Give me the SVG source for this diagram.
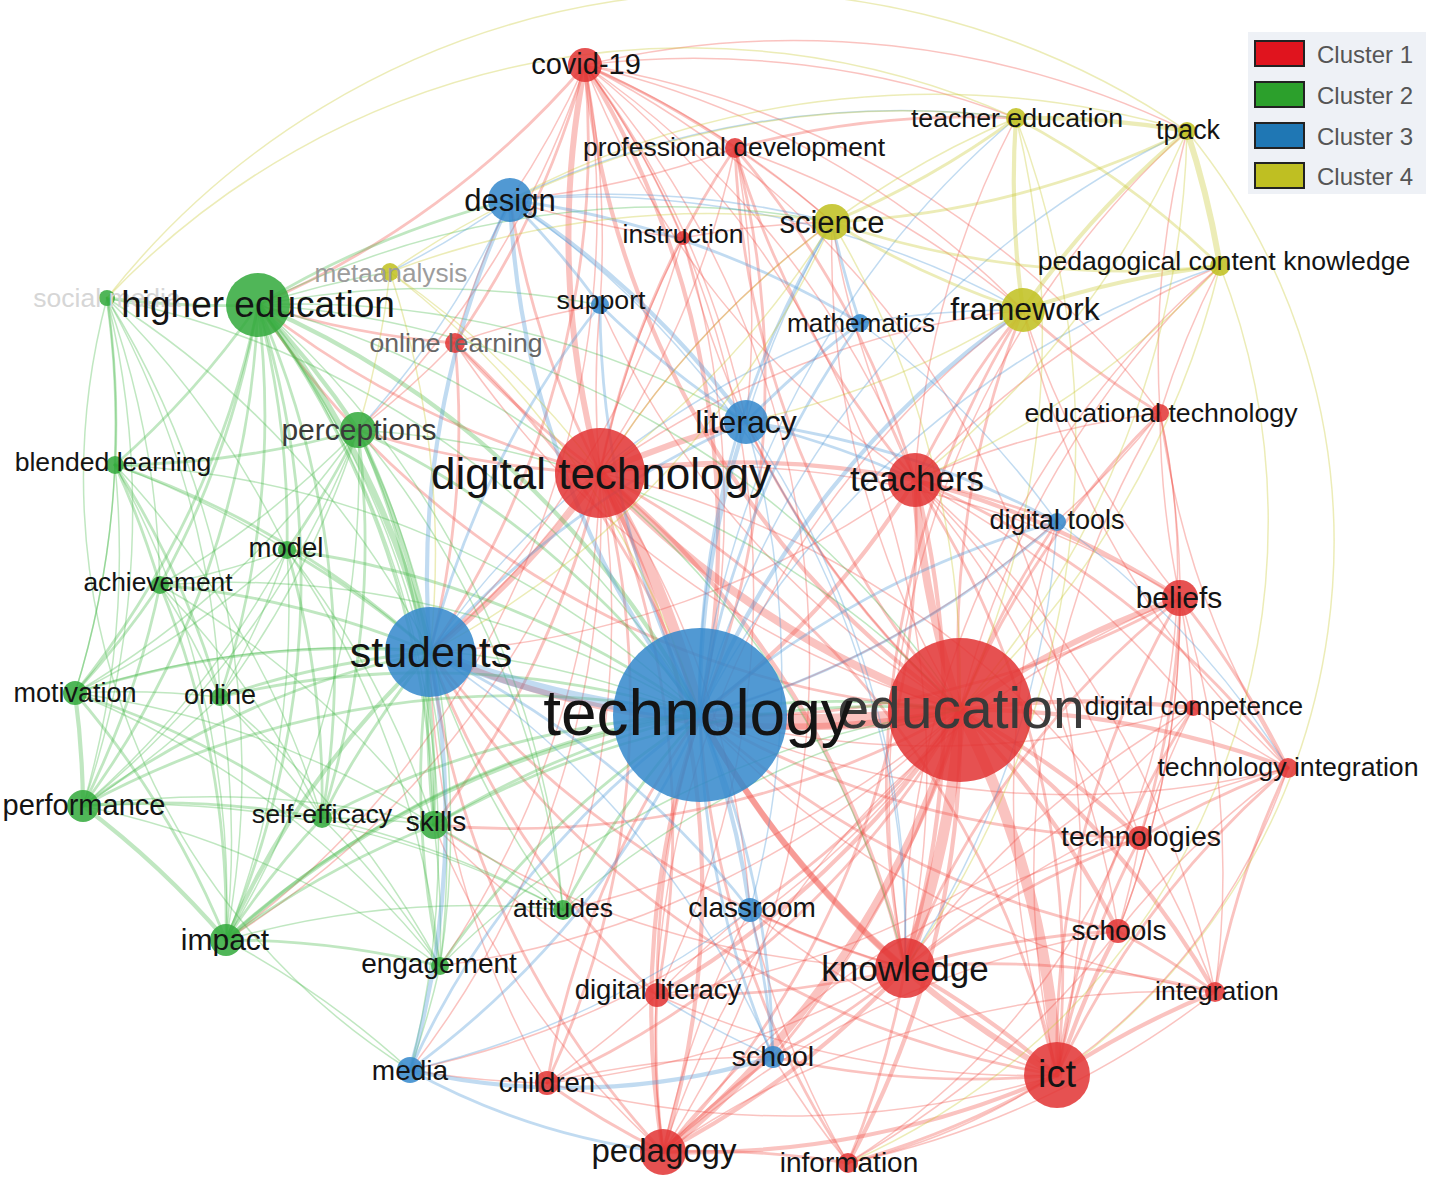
<svg xmlns="http://www.w3.org/2000/svg" width="1429" height="1197" viewBox="0 0 1429 1197">
<style>
#edges path{fill:none;stroke-opacity:.34;stroke-linecap:round}
.r{stroke:#ef4f47}.g{stroke:#45b84a}.b{stroke:#4a95d6}.y{stroke:#c6c62c}
.a{stroke-width:1.5}.b2{stroke-width:2.8}.c{stroke-width:4.2}.d{stroke-width:6}.e{stroke-width:8}.f{stroke-width:11}.h{stroke-width:16}
.nr{fill:#e23434;fill-opacity:.86}.ng{fill:#33aa3c;fill-opacity:.86}.nb{fill:#3488cc;fill-opacity:.86}.ny{fill:#c2c224;fill-opacity:.88}
text{font-family:"Liberation Sans",Arial,sans-serif;text-anchor:middle;fill:#141414}
.lg{text-anchor:start;fill:#555;font-size:24px}
</style>
<rect width="1429" height="1197" fill="#fff"/>
<g id="edges">
<path class="r h" d="M960 710A900 900 0 0 1 700 715"/>
<path class="r e" d="M960 710A900 900 0 0 1 600 473"/>
<path class="r f" d="M960 710A900 900 0 0 1 905 968"/>
<path class="r f" d="M960 710A900 900 0 0 1 1057 1075"/>
<path class="r e" d="M960 710A900 900 0 0 1 915 480"/>
<path class="r e" d="M960 710A900 900 0 0 1 663 1152"/>
<path class="r d" d="M960 710A900 900 0 0 1 1180 598"/>
<path class="r c" d="M960 710A900 900 0 0 1 1140 838"/>
<path class="r c" d="M960 710A900 900 0 0 1 1118 931"/>
<path class="r c" d="M960 710A900 900 0 0 1 1215 992"/>
<path class="r c" d="M960 710A900 900 0 0 1 1288 768"/>
<path class="r c" d="M960 710A900 900 0 0 1 1193 708"/>
<path class="r b2" d="M960 710A900 900 0 0 1 1160 413"/>
<path class="r c" d="M960 710A900 900 0 0 1 848 1163"/>
<path class="r c" d="M960 710A900 900 0 0 1 657 995"/>
<path class="r b2" d="M960 710A900 900 0 0 1 547 1083"/>
<path class="r c" d="M960 710A900 900 0 0 1 585 65"/>
<path class="r b2" d="M960 710A900 900 0 0 1 735 148"/>
<path class="r d" d="M960 710A900 900 0 0 1 430 652"/>
<path class="r b2" d="M960 710A900 900 0 0 1 750 910"/>
<path class="r b2" d="M960 710A900 900 0 0 1 773 1057"/>
<path class="r b2" d="M960 710A900 900 0 0 1 1057 522"/>
<path class="r b2" d="M960 710A900 900 0 0 1 1023 310"/>
<path class="r b2" d="M960 710A900 900 0 0 1 746 422"/>
<path class="r b2" d="M960 710A900 900 0 0 1 258 305"/>
<path class="r a" d="M960 710A900 900 0 0 1 455 343"/>
<path class="r a" d="M960 710A900 900 0 0 1 683 238"/>
<path class="r b2" d="M960 710A900 900 0 0 1 434 825"/>
<path class="r a" d="M960 710A900 900 0 0 1 563 910"/>
<path class="r a" d="M960 710A900 900 0 0 1 410 1070"/>
<path class="r a" d="M960 710A900 900 0 0 1 600 305"/>
<path class="r a" d="M960 710A900 900 0 0 1 832 222"/>
<path class="r a" d="M960 710A900 900 0 0 1 1220 266"/>
<path class="r a" d="M960 710A900 900 0 0 1 440 966"/>
<path class="r f" d="M600 473A900 900 0 0 1 700 715"/>
<path class="r d" d="M600 473A900 900 0 0 1 430 652"/>
<path class="r d" d="M600 473A900 900 0 0 1 585 65"/>
<path class="r c" d="M600 473A900 900 0 0 1 915 480"/>
<path class="r d" d="M600 473A900 900 0 0 1 746 422"/>
<path class="r c" d="M600 473A900 900 0 0 1 905 968"/>
<path class="r c" d="M600 473A900 900 0 0 1 663 1152"/>
<path class="r b2" d="M600 473A900 900 0 0 1 1057 1075"/>
<path class="r b2" d="M600 473A900 900 0 0 1 510 200"/>
<path class="r b2" d="M600 473A900 900 0 0 1 258 305"/>
<path class="r b2" d="M600 473A900 900 0 0 1 455 343"/>
<path class="r b2" d="M600 473A900 900 0 0 1 735 148"/>
<path class="r b2" d="M600 473A900 900 0 0 1 657 995"/>
<path class="r b2" d="M600 473A900 900 0 0 1 547 1083"/>
<path class="r a" d="M600 473A900 900 0 0 1 600 305"/>
<path class="r a" d="M600 473A900 900 0 0 1 683 238"/>
<path class="r b2" d="M600 473A900 900 0 0 1 434 825"/>
<path class="r b2" d="M600 473A900 900 0 0 1 358 430"/>
<path class="r a" d="M600 473A900 900 0 0 1 563 910"/>
<path class="r a" d="M600 473A900 900 0 0 1 440 966"/>
<path class="r a" d="M600 473A900 900 0 0 1 410 1070"/>
<path class="r a" d="M600 473A900 900 0 0 1 226 940"/>
<path class="r a" d="M600 473A900 900 0 0 1 1180 598"/>
<path class="r a" d="M600 473A900 900 0 0 1 832 222"/>
<path class="r a" d="M600 473A900 900 0 0 1 1023 310"/>
<path class="r a" d="M600 473A900 900 0 0 1 750 910"/>
<path class="r a" d="M600 473A900 900 0 0 1 1140 838"/>
<path class="r c" d="M915 480A900 900 0 0 1 700 715"/>
<path class="r c" d="M915 480A900 900 0 0 1 905 968"/>
<path class="r c" d="M915 480A900 900 0 0 1 1180 598"/>
<path class="r b2" d="M915 480A900 900 0 0 1 1057 1075"/>
<path class="r b2" d="M915 480A900 900 0 0 1 1023 310"/>
<path class="r b2" d="M915 480A900 900 0 0 1 735 148"/>
<path class="r b2" d="M915 480A900 900 0 0 1 1288 768"/>
<path class="r a" d="M915 480A900 900 0 0 1 1160 413"/>
<path class="r b2" d="M915 480A900 900 0 0 1 1057 522"/>
<path class="r a" d="M915 480A900 900 0 0 1 1140 838"/>
<path class="r a" d="M915 480A900 900 0 0 1 832 222"/>
<path class="r a" d="M915 480A900 900 0 0 1 1016 118"/>
<path class="r b2" d="M915 480A900 900 0 0 1 663 1152"/>
<path class="r a" d="M915 480A900 900 0 0 1 585 65"/>
<path class="r a" d="M915 480A900 900 0 0 1 430 652"/>
<path class="r a" d="M915 480A900 900 0 0 1 1193 708"/>
<path class="r a" d="M915 480A900 900 0 0 1 1118 931"/>
<path class="r a" d="M915 480A900 900 0 0 1 1215 992"/>
<path class="r a" d="M915 480A900 900 0 0 1 1220 266"/>
<path class="r d" d="M905 968A900 900 0 0 1 700 715"/>
<path class="r c" d="M905 968A900 900 0 0 1 1057 1075"/>
<path class="r c" d="M905 968A900 900 0 0 1 663 1152"/>
<path class="r b2" d="M905 968A900 900 0 0 1 1180 598"/>
<path class="r b2" d="M905 968A900 900 0 0 1 1140 838"/>
<path class="r b2" d="M905 968A900 900 0 0 1 1118 931"/>
<path class="r b2" d="M905 968A900 900 0 0 1 1215 992"/>
<path class="r b2" d="M905 968A900 900 0 0 1 848 1163"/>
<path class="r b2" d="M905 968A900 900 0 0 1 657 995"/>
<path class="r b2" d="M905 968A900 900 0 0 1 430 652"/>
<path class="r a" d="M905 968A900 900 0 0 1 750 910"/>
<path class="r b2" d="M905 968A900 900 0 0 1 773 1057"/>
<path class="r a" d="M905 968A900 900 0 0 1 547 1083"/>
<path class="r b2" d="M905 968A900 900 0 0 1 1023 310"/>
<path class="r a" d="M905 968A900 900 0 0 1 1288 768"/>
<path class="r a" d="M905 968A900 900 0 0 1 1187 131"/>
<path class="r a" d="M905 968A900 900 0 0 1 1220 266"/>
<path class="r a" d="M905 968A900 900 0 0 1 1193 708"/>
<path class="r a" d="M905 968A900 900 0 0 1 434 825"/>
<path class="r d" d="M1057 1075A900 900 0 0 1 700 715"/>
<path class="r c" d="M1057 1075A900 900 0 0 1 663 1152"/>
<path class="r c" d="M1057 1075A900 900 0 0 1 1118 931"/>
<path class="r c" d="M1057 1075A900 900 0 0 1 1215 992"/>
<path class="r b2" d="M1057 1075A900 900 0 0 1 1140 838"/>
<path class="r b2" d="M1057 1075A900 900 0 0 1 1288 768"/>
<path class="r b2" d="M1057 1075A900 900 0 0 1 1180 598"/>
<path class="r b2" d="M1057 1075A900 900 0 0 1 848 1163"/>
<path class="r b2" d="M1057 1075A900 900 0 0 1 1193 708"/>
<path class="r b2" d="M1057 1075A900 900 0 0 1 773 1057"/>
<path class="r a" d="M1057 1075A900 900 0 0 1 750 910"/>
<path class="r a" d="M1057 1075A900 900 0 0 1 657 995"/>
<path class="r b2" d="M1057 1075A900 900 0 0 1 430 652"/>
<path class="r a" d="M1057 1075A900 900 0 0 1 547 1083"/>
<path class="r a" d="M1057 1075A900 900 0 0 1 1160 413"/>
<path class="r a" d="M1057 1075A900 900 0 0 1 1057 522"/>
<path class="r c" d="M663 1152A900 900 0 0 1 700 715"/>
<path class="r b2" d="M663 1152A900 900 0 0 1 430 652"/>
<path class="r b2" d="M663 1152A900 900 0 0 1 547 1083"/>
<path class="r b2" d="M663 1152A900 900 0 0 1 657 995"/>
<path class="r b2" d="M663 1152A900 900 0 0 1 848 1163"/>
<path class="r a" d="M663 1152A900 900 0 0 1 750 910"/>
<path class="r b2" d="M663 1152A900 900 0 0 1 773 1057"/>
<path class="r a" d="M663 1152A900 900 0 0 1 1140 838"/>
<path class="r a" d="M663 1152A900 900 0 0 1 1215 992"/>
<path class="r a" d="M663 1152A900 900 0 0 1 1023 310"/>
<path class="r a" d="M663 1152A900 900 0 0 1 1180 598"/>
<path class="r a" d="M663 1152A900 900 0 0 1 1118 931"/>
<path class="r a" d="M663 1152A900 900 0 0 1 434 825"/>
<path class="r c" d="M585 65A900 900 0 0 1 700 715"/>
<path class="r b2" d="M585 65A900 900 0 0 1 258 305"/>
<path class="r b2" d="M585 65A900 900 0 0 1 455 343"/>
<path class="r b2" d="M585 65A900 900 0 0 1 430 652"/>
<path class="r b2" d="M585 65A900 900 0 0 1 735 148"/>
<path class="r a" d="M585 65A900 900 0 0 1 510 200"/>
<path class="r a" d="M585 65A900 900 0 0 1 905 968"/>
<path class="r a" d="M585 65A900 900 0 0 1 663 1152"/>
<path class="r a" d="M585 65A900 900 0 0 1 1057 1075"/>
<path class="r a" d="M585 65A900 900 0 0 1 600 305"/>
<path class="r a" d="M585 65A900 900 0 0 1 683 238"/>
<path class="r a" d="M585 65A900 900 0 0 1 746 422"/>
<path class="r a" d="M585 65A900 900 0 0 1 832 222"/>
<path class="r a" d="M585 65A900 900 0 0 1 1023 310"/>
<path class="r a" d="M585 65A900 900 0 0 1 1160 413"/>
<path class="r a" d="M585 65A900 900 0 0 1 657 995"/>
<path class="r a" d="M585 65A900 900 0 0 1 226 940"/>
<path class="r a" d="M585 65A900 900 0 0 1 358 430"/>
<path class="r a" d="M585 65A900 900 0 0 1 1187 131"/>
<path class="r a" d="M585 65A900 900 0 0 1 1016 118"/>
<path class="r a" d="M585 65A900 900 0 0 1 915 480"/>
<path class="r b2" d="M1180 598A900 900 0 0 1 700 715"/>
<path class="r b2" d="M1180 598A900 900 0 0 1 1140 838"/>
<path class="r b2" d="M1180 598A900 900 0 0 1 1288 768"/>
<path class="r a" d="M1180 598A900 900 0 0 1 1193 708"/>
<path class="r a" d="M1180 598A900 900 0 0 1 1118 931"/>
<path class="r a" d="M1180 598A900 900 0 0 1 1215 992"/>
<path class="r a" d="M1180 598A900 900 0 0 1 1160 413"/>
<path class="r a" d="M1180 598A900 900 0 0 1 1023 310"/>
<path class="r b2" d="M1140 838A900 900 0 0 1 700 715"/>
<path class="r a" d="M1140 838A900 900 0 0 1 1118 931"/>
<path class="r b2" d="M1140 838A900 900 0 0 1 1288 768"/>
<path class="r a" d="M1140 838A900 900 0 0 1 1215 992"/>
<path class="r a" d="M1140 838A900 900 0 0 1 1193 708"/>
<path class="r b2" d="M1118 931A900 900 0 0 1 700 715"/>
<path class="r b2" d="M1118 931A900 900 0 0 1 1215 992"/>
<path class="r a" d="M1118 931A900 900 0 0 1 1288 768"/>
<path class="r a" d="M1118 931A900 900 0 0 1 848 1163"/>
<path class="r a" d="M1215 992A900 900 0 0 1 700 715"/>
<path class="r b2" d="M1215 992A900 900 0 0 1 1288 768"/>
<path class="r a" d="M1215 992A900 900 0 0 1 848 1163"/>
<path class="r a" d="M1288 768A900 900 0 0 1 700 715"/>
<path class="r a" d="M1288 768A900 900 0 0 1 1193 708"/>
<path class="r a" d="M1288 768A900 900 0 0 1 1160 413"/>
<path class="r a" d="M1288 768A900 900 0 0 1 1023 310"/>
<path class="r a" d="M1193 708A900 900 0 0 1 700 715"/>
<path class="r a" d="M1193 708A900 900 0 0 1 657 995"/>
<path class="r a" d="M1160 413A900 900 0 0 1 700 715"/>
<path class="r b2" d="M1160 413A900 900 0 0 1 1023 310"/>
<path class="r a" d="M1160 413A900 900 0 0 1 1187 131"/>
<path class="r a" d="M1160 413A900 900 0 0 1 1220 266"/>
<path class="r a" d="M1160 413A900 900 0 0 1 1118 931"/>
<path class="r a" d="M1160 413A700 700 0 0 1 848 1163"/>
<path class="r b2" d="M848 1163A900 900 0 0 1 700 715"/>
<path class="r a" d="M848 1163A900 900 0 0 1 773 1057"/>
<path class="r a" d="M848 1163A900 900 0 0 1 750 910"/>
<path class="r b2" d="M657 995A900 900 0 0 1 700 715"/>
<path class="r b2" d="M657 995A900 900 0 0 1 430 652"/>
<path class="r a" d="M657 995A900 900 0 0 1 547 1083"/>
<path class="r a" d="M657 995A900 900 0 0 1 434 825"/>
<path class="r a" d="M657 995A900 900 0 0 1 750 910"/>
<path class="r b2" d="M547 1083A900 900 0 0 1 700 715"/>
<path class="r a" d="M547 1083A900 900 0 0 1 430 652"/>
<path class="r a" d="M547 1083A900 900 0 0 1 410 1070"/>
<path class="r a" d="M547 1083A900 900 0 0 1 773 1057"/>
<path class="r b2" d="M735 148A900 900 0 0 1 700 715"/>
<path class="r b2" d="M735 148A900 900 0 0 1 915 480"/>
<path class="r b2" d="M735 148A900 900 0 0 1 1016 118"/>
<path class="r a" d="M735 148A900 900 0 0 1 1023 310"/>
<path class="r a" d="M735 148A900 900 0 0 1 832 222"/>
<path class="r a" d="M735 148A900 900 0 0 1 510 200"/>
<path class="r a" d="M735 148A900 900 0 0 1 430 652"/>
<path class="r a" d="M735 148A900 900 0 0 1 746 422"/>
<path class="r b2" d="M455 343A900 900 0 0 1 700 715"/>
<path class="r b2" d="M455 343A900 900 0 0 1 430 652"/>
<path class="r b2" d="M455 343A900 900 0 0 1 258 305"/>
<path class="r a" d="M455 343A900 900 0 0 1 358 430"/>
<path class="r a" d="M455 343A900 900 0 0 1 510 200"/>
<path class="r a" d="M455 343A900 900 0 0 1 600 305"/>
<path class="r a" d="M683 238A900 900 0 0 1 700 715"/>
<path class="r a" d="M683 238A900 900 0 0 1 430 652"/>
<path class="r a" d="M683 238A900 900 0 0 1 510 200"/>
<path class="r a" d="M683 238A900 900 0 0 1 832 222"/>
<path class="g d" d="M258 305A900 900 0 0 1 430 652"/>
<path class="g c" d="M258 305A900 900 0 0 1 700 715"/>
<path class="g c" d="M258 305A900 900 0 0 1 358 430"/>
<path class="g b2" d="M258 305A900 900 0 0 1 107 298"/>
<path class="g b2" d="M258 305A900 900 0 0 1 115 465"/>
<path class="g b2" d="M258 305A900 900 0 0 1 287 550"/>
<path class="g b2" d="M258 305A900 900 0 0 1 160 585"/>
<path class="g b2" d="M258 305A900 900 0 0 1 75 693"/>
<path class="g b2" d="M258 305A900 900 0 0 1 220 697"/>
<path class="g b2" d="M258 305A900 900 0 0 1 83 806"/>
<path class="g b2" d="M258 305A900 900 0 0 1 226 940"/>
<path class="g b2" d="M258 305A900 900 0 0 1 322 818"/>
<path class="g b2" d="M258 305A900 900 0 0 1 434 825"/>
<path class="g a" d="M258 305A900 900 0 0 1 440 966"/>
<path class="g a" d="M258 305A900 900 0 0 1 563 910"/>
<path class="g b2" d="M258 305A900 900 0 0 1 510 200"/>
<path class="g a" d="M258 305A900 900 0 0 1 390 272"/>
<path class="g a" d="M258 305A900 900 0 0 1 746 422"/>
<path class="g a" d="M258 305A900 900 0 0 1 905 968"/>
<path class="g a" d="M258 305A900 900 0 0 1 832 222"/>
<path class="g a" d="M258 305A900 900 0 0 1 410 1070"/>
<path class="g a" d="M258 305A900 900 0 0 1 600 305"/>
<path class="g a" d="M258 305A900 900 0 0 1 960 710"/>
<path class="g c" d="M358 430A900 900 0 0 1 430 652"/>
<path class="g b2" d="M358 430A900 900 0 0 1 700 715"/>
<path class="g b2" d="M358 430A900 900 0 0 1 287 550"/>
<path class="g a" d="M358 430A900 900 0 0 1 160 585"/>
<path class="g b2" d="M358 430A900 900 0 0 1 115 465"/>
<path class="g b2" d="M358 430A900 900 0 0 1 322 818"/>
<path class="g b2" d="M358 430A900 900 0 0 1 434 825"/>
<path class="g a" d="M358 430A900 900 0 0 1 226 940"/>
<path class="g a" d="M358 430A900 900 0 0 1 220 697"/>
<path class="g a" d="M358 430A900 900 0 0 1 563 910"/>
<path class="g a" d="M358 430A900 900 0 0 1 440 966"/>
<path class="g a" d="M358 430A900 900 0 0 1 960 710"/>
<path class="g a" d="M358 430A900 900 0 0 1 75 693"/>
<path class="g a" d="M358 430A900 900 0 0 1 83 806"/>
<path class="g b2" d="M107 298A900 900 0 0 1 115 465"/>
<path class="g a" d="M107 298A900 900 0 0 1 287 550"/>
<path class="g a" d="M107 298A900 900 0 0 1 160 585"/>
<path class="g a" d="M107 298A900 900 0 0 1 75 693"/>
<path class="g a" d="M107 298A900 900 0 0 1 83 806"/>
<path class="g a" d="M107 298A900 900 0 0 1 226 940"/>
<path class="g a" d="M107 298A900 900 0 0 1 220 697"/>
<path class="g a" d="M107 298A900 900 0 0 1 430 652"/>
<path class="g a" d="M107 298A900 900 0 0 1 700 715"/>
<path class="g b2" d="M115 465A900 900 0 0 1 160 585"/>
<path class="g a" d="M115 465A900 900 0 0 1 75 693"/>
<path class="g a" d="M115 465A900 900 0 0 1 83 806"/>
<path class="g a" d="M115 465A900 900 0 0 1 226 940"/>
<path class="g b2" d="M115 465A900 900 0 0 1 220 697"/>
<path class="g b2" d="M115 465A900 900 0 0 1 430 652"/>
<path class="g a" d="M115 465A900 900 0 0 1 700 715"/>
<path class="g a" d="M115 465A900 900 0 0 1 287 550"/>
<path class="g a" d="M115 465A900 900 0 0 1 322 818"/>
<path class="g b2" d="M287 550A900 900 0 0 1 430 652"/>
<path class="g b2" d="M287 550A900 900 0 0 1 700 715"/>
<path class="g a" d="M287 550A900 900 0 0 1 160 585"/>
<path class="g a" d="M287 550A900 900 0 0 1 220 697"/>
<path class="g a" d="M287 550A900 900 0 0 1 226 940"/>
<path class="g b2" d="M287 550A900 900 0 0 1 322 818"/>
<path class="g a" d="M287 550A900 900 0 0 1 434 825"/>
<path class="g a" d="M287 550A900 900 0 0 1 83 806"/>
<path class="g a" d="M287 550A900 900 0 0 1 75 693"/>
<path class="g a" d="M287 550A900 900 0 0 1 440 966"/>
<path class="g b2" d="M160 585A900 900 0 0 1 75 693"/>
<path class="g b2" d="M160 585A900 900 0 0 1 83 806"/>
<path class="g b2" d="M160 585A900 900 0 0 1 226 940"/>
<path class="g a" d="M160 585A900 900 0 0 1 220 697"/>
<path class="g b2" d="M160 585A900 900 0 0 1 430 652"/>
<path class="g a" d="M160 585A900 900 0 0 1 700 715"/>
<path class="g a" d="M160 585A900 900 0 0 1 322 818"/>
<path class="g a" d="M160 585A900 900 0 0 1 434 825"/>
<path class="g c" d="M75 693A900 900 0 0 1 83 806"/>
<path class="g b2" d="M75 693A900 900 0 0 1 226 940"/>
<path class="g a" d="M75 693A900 900 0 0 1 220 697"/>
<path class="g b2" d="M75 693A900 900 0 0 1 430 652"/>
<path class="g b2" d="M75 693A900 900 0 0 1 322 818"/>
<path class="g a" d="M75 693A900 900 0 0 1 700 715"/>
<path class="g a" d="M75 693A900 900 0 0 1 440 966"/>
<path class="g a" d="M75 693A900 900 0 0 1 434 825"/>
<path class="g b2" d="M220 697A900 900 0 0 1 430 652"/>
<path class="g b2" d="M220 697A900 900 0 0 1 700 715"/>
<path class="g a" d="M220 697A900 900 0 0 1 226 940"/>
<path class="g a" d="M220 697A900 900 0 0 1 83 806"/>
<path class="g a" d="M220 697A900 900 0 0 1 322 818"/>
<path class="g a" d="M220 697A900 900 0 0 1 440 966"/>
<path class="g c" d="M83 806A900 900 0 0 1 226 940"/>
<path class="g b2" d="M83 806A900 900 0 0 1 430 652"/>
<path class="g b2" d="M83 806A900 900 0 0 1 700 715"/>
<path class="g b2" d="M83 806A900 900 0 0 1 322 818"/>
<path class="g a" d="M83 806A900 900 0 0 1 440 966"/>
<path class="g a" d="M83 806A900 900 0 0 1 434 825"/>
<path class="g a" d="M83 806A900 900 0 0 1 563 910"/>
<path class="g c" d="M226 940A900 900 0 0 1 430 652"/>
<path class="g c" d="M226 940A900 900 0 0 1 700 715"/>
<path class="g b2" d="M226 940A900 900 0 0 1 322 818"/>
<path class="g b2" d="M226 940A900 900 0 0 1 434 825"/>
<path class="g b2" d="M226 940A900 900 0 0 1 440 966"/>
<path class="g a" d="M226 940A900 900 0 0 1 563 910"/>
<path class="g a" d="M226 940A900 900 0 0 1 410 1070"/>
<path class="g b2" d="M226 940A900 900 0 0 1 960 710"/>
<path class="g b2" d="M322 818A900 900 0 0 1 430 652"/>
<path class="g b2" d="M322 818A900 900 0 0 1 700 715"/>
<path class="g a" d="M322 818A900 900 0 0 1 434 825"/>
<path class="g a" d="M322 818A900 900 0 0 1 563 910"/>
<path class="g a" d="M322 818A900 900 0 0 1 440 966"/>
<path class="g b2" d="M434 825A900 900 0 0 1 430 652"/>
<path class="g b2" d="M434 825A900 900 0 0 1 700 715"/>
<path class="g b2" d="M434 825A900 900 0 0 1 960 710"/>
<path class="g a" d="M434 825A900 900 0 0 1 563 910"/>
<path class="g a" d="M434 825A900 900 0 0 1 440 966"/>
<path class="g b2" d="M563 910A900 900 0 0 1 700 715"/>
<path class="g a" d="M563 910A900 900 0 0 1 430 652"/>
<path class="g a" d="M563 910A900 900 0 0 1 960 710"/>
<path class="g b2" d="M440 966A900 900 0 0 1 430 652"/>
<path class="g b2" d="M440 966A900 900 0 0 1 700 715"/>
<path class="g a" d="M440 966A900 900 0 0 1 960 710"/>
<path class="g a" d="M440 966A900 900 0 0 1 410 1070"/>
<path class="b f" d="M700 715A900 900 0 0 1 430 652"/>
<path class="b c" d="M700 715A900 900 0 0 1 746 422"/>
<path class="b c" d="M700 715A900 900 0 0 1 510 200"/>
<path class="b c" d="M700 715A900 900 0 0 1 750 910"/>
<path class="b b2" d="M700 715A900 900 0 0 1 773 1057"/>
<path class="b b2" d="M700 715A900 900 0 0 1 410 1070"/>
<path class="b b2" d="M700 715A900 900 0 0 1 860 323"/>
<path class="b b2" d="M700 715A900 900 0 0 1 600 305"/>
<path class="b b2" d="M700 715A900 900 0 0 1 1057 522"/>
<path class="b b2" d="M700 715A900 900 0 0 1 832 222"/>
<path class="b c" d="M700 715A900 900 0 0 1 1023 310"/>
<path class="b a" d="M700 715A900 900 0 0 1 1016 118"/>
<path class="b a" d="M700 715A900 900 0 0 1 1187 131"/>
<path class="b a" d="M700 715A900 900 0 0 1 1220 266"/>
<path class="b c" d="M430 652A900 900 0 0 1 510 200"/>
<path class="b c" d="M430 652A900 900 0 0 1 410 1070"/>
<path class="b b2" d="M430 652A900 900 0 0 1 750 910"/>
<path class="b b2" d="M430 652A900 900 0 0 1 746 422"/>
<path class="b a" d="M430 652A900 900 0 0 1 773 1057"/>
<path class="b b2" d="M430 652A900 900 0 0 1 600 305"/>
<path class="b a" d="M430 652A900 900 0 0 1 860 323"/>
<path class="b c" d="M510 200A900 900 0 0 1 746 422"/>
<path class="b b2" d="M510 200A900 900 0 0 1 600 305"/>
<path class="b b2" d="M510 200A900 900 0 0 1 860 323"/>
<path class="b a" d="M510 200A900 900 0 0 1 832 222"/>
<path class="b a" d="M510 200A900 900 0 0 1 1023 310"/>
<path class="b a" d="M510 200A900 900 0 0 1 905 968"/>
<path class="b a" d="M510 200A900 900 0 0 1 1016 118"/>
<path class="b a" d="M510 200A900 900 0 0 1 390 272"/>
<path class="b a" d="M510 200A900 900 0 0 1 358 430"/>
<path class="b b2" d="M746 422A900 900 0 0 1 915 480"/>
<path class="b b2" d="M746 422A900 900 0 0 1 1057 522"/>
<path class="b b2" d="M746 422A900 900 0 0 1 860 323"/>
<path class="b b2" d="M746 422A900 900 0 0 1 600 305"/>
<path class="b a" d="M746 422A900 900 0 0 1 750 910"/>
<path class="b a" d="M746 422A900 900 0 0 1 905 968"/>
<path class="b a" d="M746 422A900 900 0 0 1 832 222"/>
<path class="b b2" d="M860 323A900 900 0 0 1 832 222"/>
<path class="b a" d="M860 323A900 900 0 0 1 1023 310"/>
<path class="b a" d="M860 323A900 900 0 0 1 1057 522"/>
<path class="b b2" d="M1057 522A900 900 0 0 1 700 715"/>
<path class="b a" d="M1057 522A900 900 0 0 1 1288 768"/>
<path class="b a" d="M1057 522A900 900 0 0 1 905 968"/>
<path class="b a" d="M750 910A900 900 0 0 1 410 1070"/>
<path class="b b2" d="M750 910A900 900 0 0 1 773 1057"/>
<path class="b b2" d="M410 1070A900 900 0 0 1 700 715"/>
<path class="b c" d="M410 1070A700 700 0 0 0 773 1057"/>
<path class="b b2" d="M410 1070A700 700 0 0 0 663 1152"/>
<path class="b a" d="M773 1057A900 900 0 0 1 657 995"/>
<path class="b b2" d="M773 1057A900 900 0 0 1 700 715"/>
<path class="y c" d="M1023 310A900 900 0 0 1 1187 131"/>
<path class="y c" d="M1023 310A900 900 0 0 1 1016 118"/>
<path class="y c" d="M1023 310A900 900 0 0 1 1220 266"/>
<path class="y b2" d="M1023 310A900 900 0 0 1 832 222"/>
<path class="y a" d="M1023 310A900 900 0 0 1 746 422"/>
<path class="y c" d="M1016 118A900 900 0 0 1 1187 131"/>
<path class="y b2" d="M1016 118A900 900 0 0 1 1220 266"/>
<path class="y b2" d="M1016 118A900 900 0 0 1 832 222"/>
<path class="y a" d="M1016 118A900 900 0 0 1 960 710"/>
<path class="y a" d="M1016 118A900 900 0 0 1 905 968"/>
<path class="y a" d="M1016 118A900 900 0 0 0 390 272"/>
<path class="y a" d="M1016 118A900 900 0 0 0 600 473"/>
<path class="y d" d="M1187 131A900 900 0 0 1 1220 266"/>
<path class="y b2" d="M1187 131A900 900 0 0 1 832 222"/>
<path class="y a" d="M1187 131A900 900 0 0 1 960 710"/>
<path class="y a" d="M1187 131A900 900 0 0 1 915 480"/>
<path class="y a" d="M1187 131A900 900 0 0 0 510 200"/>
<path class="y b2" d="M1220 266A900 900 0 0 1 832 222"/>
<path class="y a" d="M1220 266A900 900 0 0 1 960 710"/>
<path class="y a" d="M1220 266A900 900 0 0 1 915 480"/>
<path class="y a" d="M1220 266A700 700 0 0 1 848 1163"/>
<path class="y a" d="M832 222A900 900 0 0 1 960 710"/>
<path class="y a" d="M832 222A900 900 0 0 1 430 652"/>
<path class="y a" d="M832 222A900 900 0 0 0 390 272"/>
<path class="y a" d="M832 222A900 900 0 0 1 600 473"/>
<path class="y a" d="M390 272A900 900 0 0 1 430 652"/>
<path class="y a" d="M390 272A900 900 0 0 1 700 715"/>
<path class="y a" d="M390 272A900 900 0 0 1 358 430"/>
<path class="y a" d="M390 272A900 900 0 0 1 600 473"/>
<path class="y a" d="M107 298A800 800 0 0 1 1187 131"/>
<path class="y a" d="M107 298A800 800 0 0 1 1016 118"/>
<path class="g a" d="M107 298A700 700 0 0 0 410 1070"/>
<path class="y a" d="M1187 131A650 650 0 0 1 1057 1075"/>
<path class="r a" d="M1288 768A600 600 0 0 1 848 1163"/>
</g>
<g id="legend">
<rect x="1248" y="32" width="178" height="162" fill="#eef1f6"/>
<rect x="1255" y="41" width="49" height="25" fill="#e0141e" stroke="#222" stroke-width="2"/>
<rect x="1255" y="82" width="49" height="25" fill="#2ca02c" stroke="#222" stroke-width="2"/>
<rect x="1255" y="123" width="49" height="25" fill="#1f77b4" stroke="#222" stroke-width="2"/>
<rect x="1255" y="163" width="49" height="25" fill="#bfbf22" stroke="#222" stroke-width="2"/>
<text class="lg" x="1317" y="63">Cluster 1</text>
<text class="lg" x="1317" y="104">Cluster 2</text>
<text class="lg" x="1317" y="145">Cluster 3</text>
<text class="lg" x="1317" y="185">Cluster 4</text>
</g>
<g id="nodes">
<g id="n-social-media"><circle class="ng" cx="107" cy="298" r="8"/><text x="107" y="307" font-size="26.5" style="fill:#d6d6d6">social media</text></g>
<g id="n-education"><circle class="nr" cx="960" cy="710" r="72"/><text x="961" y="728" font-size="57" style="fill:#3a3a3a">education</text></g>
<g id="n-technology"><circle class="nb" cx="700" cy="715" r="87"/><text x="698" y="735" font-size="64">technology</text></g>
<g id="n-digital-technology"><circle class="nr" cx="600" cy="473" r="45"/><text x="601" y="489" font-size="44">digital technology</text></g>
<g id="n-students"><circle class="nb" cx="430" cy="652" r="45"/><text x="431" y="667" font-size="43">students</text></g>
<g id="n-higher-education"><circle class="ng" cx="258" cy="305" r="32"/><text x="258" y="317" font-size="37">higher education</text></g>
<g id="n-ict"><circle class="nr" cx="1057" cy="1075" r="33"/><text x="1057" y="1087" font-size="38">ict</text></g>
<g id="n-knowledge"><circle class="nr" cx="905" cy="968" r="30"/><text x="905" y="981" font-size="35">knowledge</text></g>
<g id="n-teachers"><circle class="nr" cx="915" cy="480" r="27"/><text x="917" y="491" font-size="35">teachers</text></g>
<g id="n-pedagogy"><circle class="nr" cx="663" cy="1152" r="23"/><text x="664" y="1162" font-size="33">pedagogy</text></g>
<g id="n-framework"><circle class="ny" cx="1023" cy="310" r="22"/><text x="1025" y="320" font-size="32">framework</text></g>
<g id="n-literacy"><circle class="nb" cx="746" cy="422" r="22"/><text x="746" y="433" font-size="32">literacy</text></g>
<g id="n-design"><circle class="nb" cx="510" cy="200" r="22"/><text x="510" y="211" font-size="31">design</text></g>
<g id="n-science"><circle class="ny" cx="832" cy="222" r="18"/><text x="832" y="233" font-size="31">science</text></g>
<g id="n-perceptions"><circle class="ng" cx="358" cy="430" r="18"/><text x="359" y="440" font-size="30" style="fill:#3a3a3a">perceptions</text></g>
<g id="n-beliefs"><circle class="nr" cx="1180" cy="598" r="18"/><text x="1179" y="608" font-size="30">beliefs</text></g>
<g id="n-covid-19"><circle class="nr" cx="585" cy="65" r="17"/><text x="586" y="74" font-size="29">covid-19</text></g>
<g id="n-impact"><circle class="ng" cx="226" cy="940" r="16"/><text x="225" y="950" font-size="30">impact</text></g>
<g id="n-performance"><circle class="ng" cx="83" cy="806" r="16"/><text x="84" y="815" font-size="29">performance</text></g>
<g id="n-skills"><circle class="ng" cx="434" cy="825" r="14"/><text x="436" y="831" font-size="28">skills</text></g>
<g id="n-media"><circle class="nb" cx="410" cy="1070" r="13"/><text x="410" y="1080" font-size="28">media</text></g>
<g id="n-motivation"><circle class="ng" cx="75" cy="693" r="12"/><text x="75" y="702" font-size="27">motivation</text></g>
<g id="n-children"><circle class="nr" cx="547" cy="1083" r="12"/><text x="547" y="1092" font-size="27.5">children</text></g>
<g id="n-classroom"><circle class="nb" cx="750" cy="910" r="12"/><text x="752" y="917" font-size="28">classroom</text></g>
<g id="n-digital-literacy"><circle class="nr" cx="657" cy="995" r="12"/><text x="658" y="999" font-size="27.5">digital literacy</text></g>
<g id="n-technologies"><circle class="nr" cx="1140" cy="838" r="12"/><text x="1141" y="846" font-size="28.5">technologies</text></g>
<g id="n-schools"><circle class="nr" cx="1118" cy="931" r="12"/><text x="1119" y="940" font-size="28">schools</text></g>
<g id="n-school"><circle class="nb" cx="773" cy="1057" r="11"/><text x="773" y="1066" font-size="28.5">school</text></g>
<g id="n-integration"><circle class="nr" cx="1215" cy="992" r="10"/><text x="1217" y="1000" font-size="26.5">integration</text></g>
<g id="n-information"><circle class="nr" cx="848" cy="1163" r="10"/><text x="849" y="1172" font-size="28">information</text></g>
<g id="n-technology-integration"><circle class="nr" cx="1288" cy="768" r="10"/><text x="1288" y="776" font-size="26.7">technology integration</text></g>
<g id="n-digital-competence"><circle class="nr" cx="1193" cy="708" r="8"/><text x="1194" y="715" font-size="26.2">digital competence</text></g>
<g id="n-educational-technology"><circle class="nr" cx="1160" cy="413" r="9"/><text x="1161" y="422" font-size="26.7">educational technology</text></g>
<g id="n-digital-tools"><circle class="nb" cx="1057" cy="522" r="9"/><text x="1057" y="529" font-size="27">digital tools</text></g>
<g id="n-mathematics"><circle class="nb" cx="860" cy="323" r="9"/><text x="861" y="332" font-size="26.1">mathematics</text></g>
<g id="n-support"><circle class="nb" cx="600" cy="305" r="9"/><text x="601" y="309" font-size="26.7">support</text></g>
<g id="n-instruction"><circle class="nr" cx="683" cy="238" r="7"/><text x="683" y="243" font-size="26.5">instruction</text></g>
<g id="n-professional-development"><circle class="nr" cx="735" cy="148" r="10"/><text x="734" y="156" font-size="26.5">professional development</text></g>
<g id="n-online-learning"><circle class="nr" cx="455" cy="343" r="10"/><text x="456" y="352" font-size="26.6" style="fill:#666">online learning</text></g>
<g id="n-metaanalysis"><circle class="ny" cx="390" cy="272" r="9"/><text x="391" y="282" font-size="26.2" style="fill:#9c9c9c">metaanalysis</text></g>
<g id="n-blended-learning"><circle class="ng" cx="115" cy="465" r="9"/><text x="113" y="471" font-size="26.6">blended learning</text></g>
<g id="n-model"><circle class="ng" cx="287" cy="550" r="9"/><text x="286" y="557" font-size="27.5">model</text></g>
<g id="n-achievement"><circle class="ng" cx="160" cy="585" r="9"/><text x="158" y="591" font-size="26.3">achievement</text></g>
<g id="n-online"><circle class="ng" cx="220" cy="697" r="9"/><text x="220" y="704" font-size="27">online</text></g>
<g id="n-self-efficacy"><circle class="ng" cx="322" cy="818" r="10"/><text x="322" y="823" font-size="26.7">self-efficacy</text></g>
<g id="n-attitudes"><circle class="ng" cx="563" cy="910" r="10"/><text x="563" y="917" font-size="26.5">attitudes</text></g>
<g id="n-engagement"><circle class="ng" cx="440" cy="966" r="9"/><text x="439" y="973" font-size="28">engagement</text></g>
<g id="n-teacher-education"><circle class="ny" cx="1016" cy="118" r="10"/><text x="1017" y="127" font-size="26.7">teacher education</text></g>
<g id="n-tpack"><circle class="ny" cx="1187" cy="131" r="9"/><text x="1188" y="139" font-size="26.8">tpack</text></g>
<g id="n-pedagogical-content-knowledge"><circle class="ny" cx="1220" cy="266" r="10"/><text x="1224" y="270" font-size="26.6">pedagogical content knowledge</text></g>
</g>
</svg>
